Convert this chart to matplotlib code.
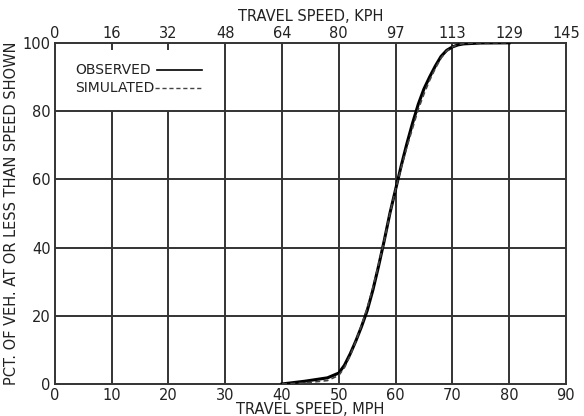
import matplotlib
matplotlib.use("Agg")
import matplotlib.pyplot as plt

# cumulative speed distribution, observed vs simulated
obs_mph = [40, 44, 48, 50, 51, 52, 53, 54, 55, 56, 57, 58, 59, 60, 61, 62, 63, 64,
           65, 66, 67, 68, 69, 70, 71, 72, 75, 80]
obs_pct = [0, 0.8, 1.8, 3.2, 5.5, 8.8, 12.6, 16.8, 21.5, 27.5, 34.5, 42, 50, 57, 64,
           70.5, 76.5, 82, 86.5, 90, 93.2, 96, 97.8, 98.8, 99.4, 99.7, 99.95, 100]
sim_mph = [40, 44, 48, 50, 51, 52, 53, 54, 55, 56, 57, 58, 59, 60, 61, 62, 63, 64,
           65, 66, 67, 68, 69, 70, 71, 72, 75, 80]
sim_pct = [0, 0.3, 1.0, 2.5, 4.8, 8.3, 12.5, 17.2, 22.2, 28.2, 35, 42, 50, 57, 63.5,
           69.5, 75, 80.5, 85, 89, 92.5, 95.5, 97.6, 98.8, 99.5, 99.8, 100, 100]

mph_ticks = [0, 10, 20, 30, 40, 50, 60, 70, 80, 90]
kph_labels = ["0", "16", "32", "48", "64", "80", "97", "113", "129", "145"]
pct_ticks = [0, 20, 40, 60, 80, 100]

plt.rcParams['font.family'] = ['DejaVu Sans']
fig = plt.figure(figsize=(5.84, 4.16), dpi=100)
ax = fig.add_axes([0.094, 0.077, 0.875, 0.820])

gc = "#333333"
tc = "#222222"
fs = 10.5
# grid: 10 and 20 mph lines stop at 80 pct to leave room for the key
for m in mph_ticks[1:-1]:
    if m in (10, 20):
        ax.vlines(m, 0, 80, color=gc, lw=1.4, zorder=1)
        ax.vlines(m, 97.8, 100, color=gc, lw=1.4, zorder=1)
    else:
        ax.vlines(m, 0, 100, color=gc, lw=1.4, zorder=1)
for p in pct_ticks[1:-1]:
    ax.hlines(p, 0, 90, color=gc, lw=1.4, zorder=1)

ax.plot(obs_mph, obs_pct, color="black", lw=2.2, zorder=3)
ax.plot(sim_mph, sim_pct, color="#444444", lw=1.2, ls=(0, (3, 2)), zorder=4)

# key
ax.text(0.039, 0.921, "OBSERVED", transform=ax.transAxes, fontsize=10,
        color=tc, va="center")
ax.plot([0.20, 0.288], [0.921, 0.921], transform=ax.transAxes,
        color="black", lw=1.2)
ax.text(0.039, 0.868, "SIMULATED", transform=ax.transAxes, fontsize=10,
        color=tc, va="center")
ax.plot([0.196, 0.288], [0.868, 0.868], transform=ax.transAxes,
        color="#444444", lw=1.0, ls=(0, (3, 2)))

ax.set_xlim(0, 90)
ax.set_ylim(0, 100)
ax.set_xticks(mph_ticks)
ax.set_yticks(pct_ticks)
ax.tick_params(length=0, labelsize=fs, colors=tc, pad=3)
for s in ax.spines.values():
    s.set_color(gc)
    s.set_linewidth(1.4)

ax.set_xlabel("TRAVEL SPEED, MPH", fontsize=fs, labelpad=-1, color=tc)
ax.set_ylabel("PCT. OF VEH. AT OR LESS THAN SPEED SHOWN", fontsize=fs,
              labelpad=3, color=tc)

ax2 = ax.twiny()
ax2.set_xlim(0, 90)
ax2.set_xticks(mph_ticks, labels=kph_labels)
ax2.tick_params(length=0, labelsize=fs, colors=tc, pad=1)
for s in ax2.spines.values():
    s.set_visible(False)
ax2.set_xlabel("TRAVEL SPEED, KPH", fontsize=fs, labelpad=4, color=tc)

fig.savefig("out.png", dpi=100)
